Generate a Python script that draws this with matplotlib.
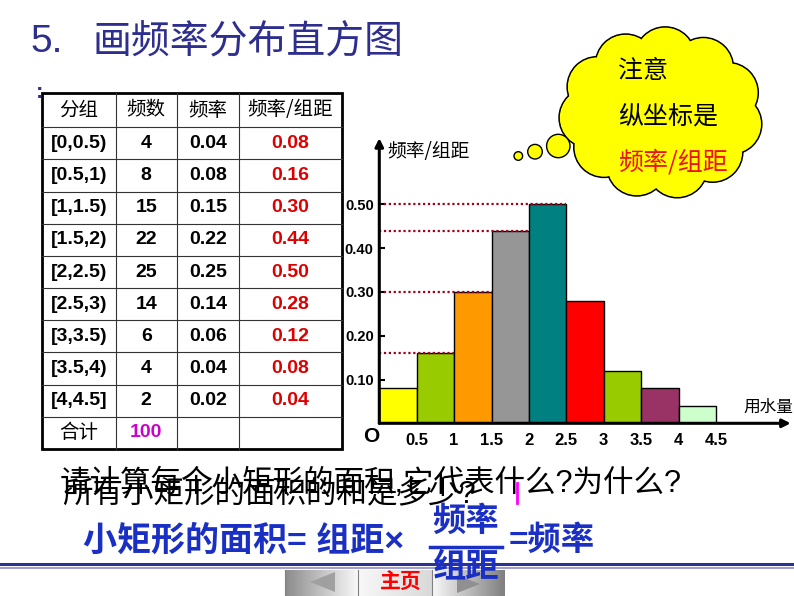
import numpy as np
import matplotlib.pyplot as plt
from matplotlib.patches import Circle, Ellipse, Polygon, Rectangle

plt.rcParams['font.family'] = ['Liberation Sans', 'Noto Sans CJK SC']
CJK = 'Noto Sans CJK SC'

# 数据
groups = ['[0,0.5)', '[0.5,1)', '[1,1.5)', '[1.5,2)', '[2,2.5)',
          '[2.5,3)', '[3,3.5)', '[3.5,4)', '[4,4.5]']
counts = [4, 8, 15, 22, 25, 14, 6, 4, 2]
freqs = [0.04, 0.08, 0.15, 0.22, 0.25, 0.14, 0.06, 0.04, 0.02]
dens = [0.08, 0.16, 0.30, 0.44, 0.50, 0.28, 0.12, 0.08, 0.04]
edges = [0, 0.5, 1, 1.5, 2, 2.5, 3, 3.5, 4, 4.5]
xtick_labels = ['0.5', '1', '1.5', '2', '2.5', '3', '3.5', '4', '4.5']
yticks = [0.10, 0.20, 0.30, 0.40, 0.50]
bar_colors = ['#ffff00', '#99cc00', '#ff9900', '#969696', '#008080',
              '#ff0000', '#99cc00', '#993366', '#ccffcc']
header = ['分组', '频数', '频率', '频率/组距']
total = 100

W, H = 794, 596
navy = '#2e2e8e'
blue = '#1a2fc4'
fig = plt.figure(figsize=(W/100, H/100), dpi=100)

# ---- 直方图 ----
x0, y0 = 379.3, 423.3
px_x, px_y = 74.8, 438.0
xmax, ymax = 5.5, 0.651
ax = fig.add_axes([x0/W, (H-y0)/H, xmax*px_x/W, ymax*px_y/H], zorder=1)
ax.set_xlim(0, xmax)
ax.set_ylim(0, ymax)
ax.patch.set_alpha(0)
for s in ax.spines.values():
    s.set_visible(False)

ax.bar(edges[:-1], dens, width=0.5, align='edge', color=bar_colors,
       edgecolor='black', linewidth=1, zorder=2)
for i in [1, 2, 3, 4]:
    ax.hlines(dens[i], 0, edges[i+1], colors='#a0001e',
              linestyles=(0, (1, 1.2)), lw=1.6, zorder=3)

arr = dict(arrowstyle='-|>', lw=2.2, color='black', shrinkA=0, shrinkB=0,
           mutation_scale=12)
ax.annotate('', xy=(0, 1), xytext=(0, 0), xycoords='axes fraction',
            arrowprops=arr, annotation_clip=False)
ax.annotate('', xy=(1, 0), xytext=(0, 0), xycoords='axes fraction',
            arrowprops=arr, annotation_clip=False)

ax.set_yticks(yticks, ['%.2f' % v for v in yticks])
ax.tick_params(axis='y', direction='in', length=4, width=1.5, pad=4, labelsize=10.5)
ax.set_xticks(edges[1:], xtick_labels)
ax.tick_params(axis='x', length=0, pad=7, labelsize=12)
for lab in ax.get_xticklabels() + ax.get_yticklabels():
    lab.set_fontweight('bold')

# ---- 幻灯片其余部分 ----
ax0 = fig.add_axes([0, 0, 1, 1], zorder=5)
ax0.axis('off')

# 标题
ax0.text(30, 42, '5.', fontsize=28, color=navy, va='center', ha='left')
ax0.text(92, 42, '画频率分布直方图', fontsize=28, color=navy, va='center',
         ha='left', family=CJK)
ax0.text(36, 92, ':', fontsize=16, color=navy, va='center', fontweight='bold')

# 表格
col_x = [41.7, 115.7, 176.7, 239.0, 341.7]
row_y = [92.7] + list(127.3 + 32.17*np.arange(0, 11))
for x in col_x[1:-1]:
    ax0.plot([x, x], [row_y[0], row_y[-1]], color='#333333', lw=0.8)
for y in row_y[1:-1]:
    ax0.plot([col_x[0], col_x[-1]], [y, y], color='#333333', lw=0.8)
ax0.add_patch(Rectangle((col_x[0], row_y[0]), col_x[-1]-col_x[0],
                        row_y[-1]-row_y[0], fill=False, ec='black', lw=2))
cx = [(col_x[j]+col_x[j+1])/2 for j in range(4)]
cy = [(row_y[k]+row_y[k+1])/2 for k in range(len(row_y)-1)]
for j, h in enumerate(header):
    ax0.text(cx[j], cy[0], h, fontsize=14, family=CJK, ha='center', va='center')
for i in range(len(groups)):
    y = cy[i+1]
    ax0.text(cx[0], y, groups[i], fontsize=14, fontweight='bold', ha='center', va='center')
    ax0.text(cx[1], y, str(counts[i]), fontsize=14, fontweight='bold', ha='center', va='center')
    ax0.text(cx[2], y, '%.2f' % freqs[i], fontsize=14, fontweight='bold', ha='center', va='center')
    ax0.text(cx[3], y, '%.2f' % dens[i], fontsize=14, fontweight='bold', color='#dd0000',
             ha='center', va='center')
ax0.text(cx[0], cy[-1], '合计', fontsize=14, family=CJK, ha='center', va='center')
ax0.text(cx[1], cy[-1], str(total), fontsize=14, fontweight='bold', color='#cc00cc',
         ha='center', va='center')

# 坐标轴文字
ax0.text(387, 152, '频率/组距', fontsize=13.5, family=CJK, va='center', ha='left')
ax0.text(743, 407, '用水量', fontsize=12, family=CJK, va='center', ha='left')
ax0.text(371, 437, 'O', fontsize=15, fontweight='bold', va='center', ha='center')

# 云形标注
ccx, ccy = 661, 113
ang = np.linspace(0, 2*np.pi, 11, endpoint=False) + 0.2
bumps = [(ccx + 72*np.cos(a), ccy + 56*np.sin(a)) for a in ang]
for b in bumps:
    ax0.add_patch(Circle(b, 30, fc='#ffff00', ec='black', lw=1.4))
for b in bumps:
    ax0.add_patch(Circle(b, 29.4, fc='#ffff00', ec='none'))
ax0.add_patch(Ellipse((ccx, ccy), 170, 130, fc='#ffff00', ec='none'))
for (bx, by, r) in [(518.3, 156, 4.3), (535, 151.7, 7.3), (558.3, 146, 11.7)]:
    ax0.add_patch(Circle((bx, by), r, fc='#ffff00', ec='black', lw=1))
ax0.text(618, 71, '注意', fontsize=18, family=CJK, va='center', ha='left')
ax0.text(618, 117, '纵坐标是', fontsize=18, family=CJK, va='center', ha='left')
ax0.text(618, 162, '频率/组距', fontsize=18, family=CJK, color='#ee1111',
         va='center', ha='left')

# 底部问题文字
ax0.text(60, 484, '请计算每个小矩形的面积,它代表什么?为什么?', fontsize=22,
         va='center', ha='left')
ax0.text(62, 494, '所有小矩形的面积的和是多少?', fontsize=22, va='center', ha='left')
ax0.plot([516.5, 516.5], [483, 503], color='#ff00ff', lw=2)

# 分隔线
ax0.plot([0, W], [564, 564], color='#2e3192', lw=2.2)
ax0.plot([0, W], [567.5, 567.5], color='#8c8cc8', lw=1.2)

# 按钮
segs = [(285, 358, [0.55, 0.97]), (358, 432, [0.97, 0.85]), (432, 505, [0.97, 0.5])]
for (a, b, g) in segs:
    grad = np.linspace(g[0], g[1], 50)[None, :]
    ax0.imshow(grad, extent=(a, b, 596, 570), cmap='gray', vmin=0, vmax=1,
               aspect='auto', zorder=0.5)
    ax0.plot([a, a], [570, 596], color='#808080', lw=0.8)
ax0.add_patch(Polygon([(310, 582), (335, 572), (335, 592)], fc='#a0a0a0', ec='none'))
ax0.add_patch(Polygon([(480, 584), (457, 575), (457, 593)], fc='#909090', ec='none'))
ax0.text(401, 582, '主页', fontsize=15, family=CJK, fontweight='bold', color='#ff0000',
         va='center', ha='center')

# 公式
ax0.text(83, 542, '小矩形的面积= 组距×', fontsize=24.5, fontweight='bold', color=blue,
         va='center', ha='left', zorder=6)
ax0.text(466, 521, '频率', fontsize=24, fontweight='bold', color=blue, family=CJK,
         va='center', ha='center', zorder=6)
ax0.plot([430, 502], [547, 547], color=blue, lw=2.5, zorder=6)
ax0.text(466, 568, '组距', fontsize=24, fontweight='bold', color=blue, family=CJK,
         va='center', ha='center', zorder=6)
ax0.text(509, 541, '=频率', fontsize=24, fontweight='bold', color=blue,
         va='center', ha='left', zorder=6)

ax0.set_xlim(0, W)
ax0.set_ylim(H, 0)

fig.savefig('out.png', dpi=100, facecolor='white')
